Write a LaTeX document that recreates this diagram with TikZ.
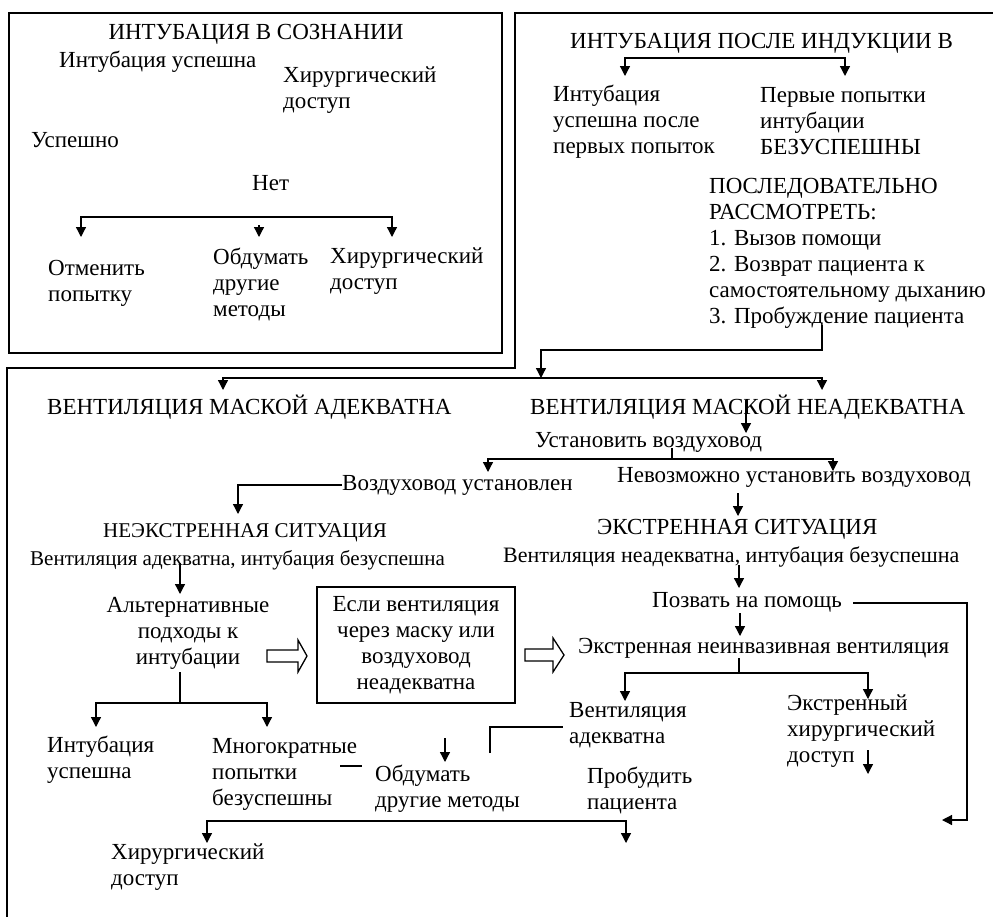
\documentclass[tikz,border=0pt]{standalone}
\usepackage{fontspec}
\setmainfont{Liberation Serif}
\usetikzlibrary{arrows.meta}
\begin{document}
\begin{tikzpicture}[x=1pt,y=-1pt,
  txt/.style={inner sep=0pt, font=\fontsize{23}{26}\selectfont, align=left, anchor=west},
  ctxt/.style={inner sep=0pt, font=\fontsize{23}{26}\selectfont, align=center},
  ln/.style={line width=1.3pt},
  arr/.style={line width=1.3pt, -{Triangle[length=10pt,width=10pt]}},
  frm/.style={line width=1.5pt},
  barr/.style={line width=1.3pt, fill=white}
]
\useasboundingbox (0,0) rectangle (993,916);
% frames
\draw[frm] (9,13) rectangle (502,353);
\draw[frm] (996,13) -- (515,13) -- (515,368) -- (7,368) -- (7,918);

% top-left box
\node[ctxt] (tlTitle) at (256,34) {ИНТУБАЦИЯ В СОЗНАНИИ};
\node[txt] (tlOk) at (59,62) {Интубация успешна};
\node[txt] (tlSurg) at (283,90) {Хирургический\\доступ};
\node[txt] (tlSucc) at (31,140) {Успешно};
\node[txt] (tlNo) at (252,183) {Нет};
\coordinate (tlM) at (236,217);
\coordinate (tlA1) at (81,237);
\coordinate (tlA3) at (392,237);
\draw[arr] (tlM) -| (tlA1);
\draw[arr] (tlM) -| (tlA3);
\coordinate (tlA2s) at (259,225);
\coordinate (tlA2) at (259,237);
\draw[arr] (tlA2s) -- (tlA2);
\node[txt] (tlCancel) at (48,283.5) {Отменить\\попытку};
\node[txt] (tlOther) at (213,284) {Обдумать\\другие\\методы};
\node[txt] (tlSurg2) at (330,271) {Хирургический\\доступ};

% top-right box
\node[txt] (trTitle) at (570,43) {ИНТУБАЦИЯ ПОСЛЕ ИНДУКЦИИ В};
\coordinate (trM) at (735,58);
\coordinate (trA1) at (625,76);
\coordinate (trA2) at (845,76);
\draw[arr] (trM) -| (trA1);
\draw[arr] (trM) -| (trA2);
\node[txt] (trOk) at (553,121.5) {Интубация\\успешна после\\первых попыток};
\node[txt] (trFail) at (760,121.5) {Первые попытки\\интубации\\БЕЗУСПЕШНЫ};
\node[txt] (trSeq) at (709,253) {ПОСЛЕДОВАТЕЛЬНО\\РАССМОТРЕТЬ:\\1. Вызов помощи\\2. Возврат пациента к\\самостоятельному дыханию\\3. Пробуждение пациента};
\coordinate (trOut) at (822,325);
\coordinate (trJ) at (541,350);
\coordinate (mainM) at (541,378);
\draw[arr] (trOut) |- (trJ) -- (mainM);

% main split
\coordinate (mA1) at (223,390);
\coordinate (mA2) at (822,390);
\draw[arr] (mainM) -| (mA1);
\draw[arr] (mainM) -| (mA2);
\node[txt] (adeq) at (47,407) {ВЕНТИЛЯЦИЯ МАСКОЙ АДЕКВАТНА};
\node[txt] (inadeq) at (530,407) {ВЕНТИЛЯЦИЯ МАСКОЙ НЕАДЕКВАТНА};
\coordinate (inS) at (746,400);
\coordinate (inE) at (746,433);
\draw[arr] (inS) -- (inE);
\node[txt] (airway) at (535,442) {Установить воздуховод};
\coordinate (awS) at (672,448);
\coordinate (awM) at (672,459);
\coordinate (awL) at (488,472);
\coordinate (awR) at (833,471);
\draw[ln] (awS) -- (awM);
\draw[arr] (awM) -| (awL);
\draw[arr] (awM) -| (awR);
\node[txt] (awOk) at (342,485) {Воздуховод установлен};
\coordinate (neS) at (238,514);
\draw[arr] (awOk.west) -| (neS);
\node[txt] (awNo) at (617,477) {Невозможно установить воздуховод};
\coordinate (exS) at (738,493);
\coordinate (exE) at (738,516);
\draw[arr] (exS) -- (exE);

% non-emergency
\node[txt, font=\fontsize{21}{24}\selectfont] (nonem) at (103,533) {НЕЭКСТРЕННАЯ СИТУАЦИЯ};
\node[txt, font=\fontsize{21}{24}\selectfont] (nonemSub) at (30,560) {Вентиляция адекватна, интубация безуспешна};
\coordinate (altS) at (180,563);
\coordinate (altE) at (180,594);
\draw[arr] (altS) -- (altE);
\node[ctxt] (alt) at (188,633) {Альтернативные\\подходы к\\интубации};
\draw[barr] (267,650) -- (298,650) -- (298,640) -- (307,656) -- (298,672) -- (298,662) -- (267,662) -- cycle;
\node[draw, frm, inner sep=0pt, minimum width=198pt, minimum height=116pt, font=\fontsize{23}{26}\selectfont, align=center] (box) at (416,645) {Если вентиляция\\через маску или\\воздуховод\\неадекватна};
\draw[barr] (525,649) -- (553,649) -- (553,638) -- (564,655) -- (553,672) -- (553,661) -- (525,661) -- cycle;
\coordinate (alS) at (180,672);
\coordinate (alM) at (180,703);
\coordinate (alL) at (96,727);
\coordinate (alR) at (267,727);
\draw[ln] (alS) -- (alM);
\draw[arr] (alM) -| (alL);
\draw[arr] (alM) -| (alR);
\node[txt] (intOk) at (47,760) {Интубация\\успешна};
\node[txt] (multi) at (212,774.5) {Многократные\\попытки\\безуспешны};
\coordinate (dashA) at (340,766);
\coordinate (dashB) at (362,766);
\draw[ln] (dashA) -- (dashB);
\coordinate (coS) at (445,738);
\coordinate (coE) at (445,762);
\draw[arr] (coS) -- (coE);
\node[txt] (consider) at (375,788.5) {Обдумать\\другие методы};
\coordinate (brA) at (490,753);
\coordinate (brB) at (563,727);
\draw[ln] (brA) |- (brB);
\coordinate (botM) at (400,821);
\coordinate (botL) at (207,843);
\coordinate (botR) at (626,843);
\draw[arr] (botM) -| (botL);
\draw[arr] (botM) -| (botR);
\node[txt] (surgB) at (111,867.5) {Хирургический\\доступ};

% emergency
\node[txt] (em) at (597,529) {ЭКСТРЕННАЯ СИТУАЦИЯ};
\node[txt, font=\fontsize{22}{25}\selectfont] (emSub) at (503,557) {Вентиляция неадекватна, интубация безуспешна};
\coordinate (hlS) at (739,565);
\coordinate (hlE) at (739,588);
\draw[arr] (hlS) -- (hlE);
\node[txt] (help) at (652,602) {Позвать на помощь};
\coordinate (hpA) at (853,603);
\coordinate (hpB) at (967,820);
\coordinate (hpC) at (942,820);
\draw[arr] (hpA) -| (hpB) -- (hpC);
\coordinate (niS) at (740,613);
\coordinate (niE) at (740,636);
\draw[arr] (niS) -- (niE);
\node[txt] (noninv) at (578,648) {Экстренная неинвазивная вентиляция};
\coordinate (nvS) at (739,658);
\coordinate (nvM) at (739,673);
\coordinate (nvL) at (625,701);
\coordinate (nvR) at (868,699);
\draw[ln] (nvS) -- (nvM);
\draw[arr] (nvM) -| (nvL);
\draw[arr] (nvM) -| (nvR);
\node[txt] (ventOk) at (569,725) {Вентиляция\\адекватна};
\node[txt] (emSurg) at (787,731) {Экстренный\\хирургический\\доступ};
\coordinate (esS) at (868,750);
\coordinate (esE) at (868,774);
\draw[arr] (esS) -- (esE);
\node[txt] (wake) at (587,790) {Пробудить\\пациента};
\end{tikzpicture}
\end{document}
